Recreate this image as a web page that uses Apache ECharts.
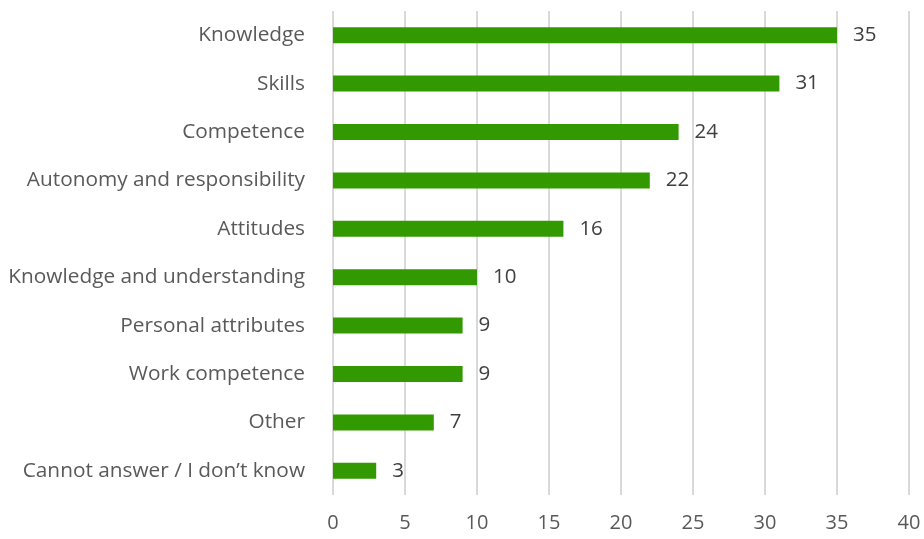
<!DOCTYPE html>
<html><head><meta charset="utf-8">
<script src="https://cdn.jsdelivr.net/npm/echarts@6/dist/echarts.min.js"></script>
<style>html,body{margin:0;padding:0;background:#fff}#c{width:924px;height:539px}</style>
</head><body><div id="c"></div>
<script>
const categories = ["Knowledge","Skills","Competence","Autonomy and responsibility","Attitudes","Knowledge and understanding","Personal attributes","Work competence","Other","Cannot answer / I don\u2019t know"];
const values = [35,31,24,22,16,10,9,9,7,3];
const xTicks = [0,5,10,15,20,25,30,35,40];
const chart = echarts.init(document.getElementById('c'));
const font = "'Open Sans', 'Liberation Sans', sans-serif";
chart.setOption({
  animation:false,
  grid:{left:333,right:15,top:11,bottom:44,containLabel:false},
  xAxis:{type:'value',min:xTicks[0],max:xTicks[xTicks.length-1],interval:5,
    axisLine:{show:false},axisTick:{show:false},
    splitLine:{lineStyle:{color:'#d9d9d9',width:2}},
    axisLabel:{color:'#595959',fontSize:20,fontFamily:font,margin:18}},
  yAxis:{type:'category',data:categories,inverse:true,
    axisLine:{show:false},axisTick:{show:false},
    axisLabel:{color:'#595959',fontSize:20.8,fontFamily:font,margin:28}},
  series:[{type:'bar',data:values,barWidth:16,itemStyle:{color:'#339900'},
    label:{show:true,position:'right',distance:16,color:'#404040',fontSize:20.5,fontFamily:font}}]
});
</script></body></html>
